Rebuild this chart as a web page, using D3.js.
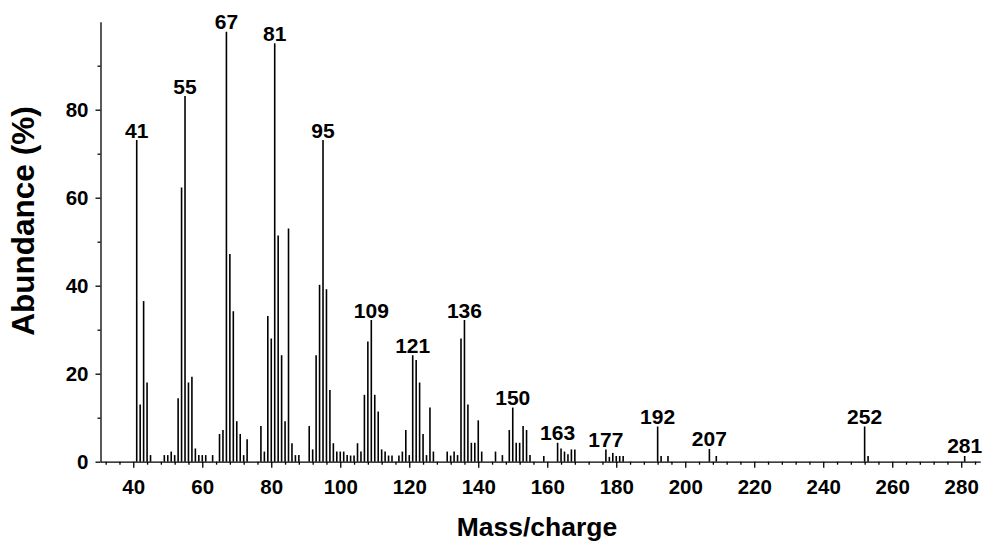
<!DOCTYPE html>
<html><head><meta charset="utf-8">
<script src="https://cdn.jsdelivr.net/npm/d3@7"></script>
<style>
html,body{margin:0;padding:0;background:#fff;}
svg text{font-family:"Liberation Sans",Arial,Helvetica,sans-serif;font-weight:bold;fill:#000;}
</style></head>
<body>
<svg id="c" width="983" height="541"></svg>
<script>
// m/z values and relative abundance (%)
const masses = [41,42,43,44,45,49,50,51,52,53,54,55,56,57,58,59,60,61,63,65,66,67,68,69,70,71,72,73,
  77,78,79,80,81,82,83,84,85,86,87,88,91,92,93,94,95,96,97,98,99,100,101,102,
  103,104,105,106,107,108,109,110,111,112,113,114,115,117,118,119,120,121,122,123,124,125,126,127,
  131,132,133,134,135,136,137,138,139,140,141,145,147,149,150,151,152,153,154,155,159,
  163,164,165,166,167,168,177,178,179,180,181,182,192,193,195,207,209,252,253,281];
const abundance = [73.1,13.0,36.5,18.0,1.5,1.5,1.5,2.3,1.5,14.4,62.3,83.1,18.0,19.3,3.0,1.5,1.5,1.5,1.5,6.3,7.2,97.7,47.2,34.2,9.2,6.3,1.5,5.1,
  8.1,2.3,33.1,28.0,95.1,51.4,24.2,9.2,53.0,4.2,1.5,1.5,8.1,2.8,24.2,40.2,73.1,39.2,16.3,4.2,2.3,2.3,2.3,1.5,
  1.4,1.4,4.2,2.3,15.2,27.3,32.2,15.2,11.4,2.8,2.3,1.4,1.4,1.4,2.3,7.2,1.5,24.2,23.1,18.0,6.3,1.5,12.3,2.3,
  2.3,1.4,2.3,1.5,28.0,32.2,13.0,4.3,4.3,9.4,2.3,2.3,1.5,7.2,12.3,4.3,4.3,8.1,7.2,1.5,1.3,
  4.3,3.0,2.3,1.7,2.8,2.8,2.8,1.1,2.0,1.3,1.3,1.3,8.0,1.3,1.3,2.9,1.3,8.0,1.3,1.3];
const labelledPeaks = [41,55,67,81,95,109,121,136,150,163,177,192,207,252,281];
const xMajorTicks = [40,60,80,100,120,140,160,180,200,220,240,260,280];
const yMajorTicks = [0,20,40,60,80];
const yMinorTicks = [10,30,50,70,90];
const xLabel = "Mass/charge";
const yLabel = "Abundance (%)";

const data = masses.map((m,i)=>({m, v: abundance[i]}));
const svg = d3.select("#c");
const x = d3.scaleLinear().domain([30.5, 285.5]).range([100.5, 980.2]);
const y = d3.scaleLinear().domain([0, 100]).range([461.7, 21.7]);

// bars
svg.append("g").selectAll("line").data(data).join("line")
  .attr("x1", d=>x(d.m)).attr("x2", d=>x(d.m))
  .attr("y1", y(0)).attr("y2", d=>y(d.v))
  .attr("stroke", "#000").attr("stroke-width", 1.6);

// peak labels
const byMass = new Map(data.map(d=>[d.m,d.v]));
svg.append("g").selectAll("text").data(labelledPeaks).join("text")
  .attr("x", d=>x(d)).attr("y", d=>y(byMass.get(d)) - 2.5)
  .attr("text-anchor","middle").attr("font-size", 21).text(d=>d);

// x axis
const xMinor = d3.range(32, 286, 4).filter(v=>!xMajorTicks.includes(v));
const gx = svg.append("g").attr("transform", `translate(0,${y(0)})`);
gx.call(d3.axisBottom(x).tickValues(xMajorTicks).tickSize(6).tickSizeOuter(0).tickPadding(12));
gx.append("g").call(d3.axisBottom(x).tickValues(xMinor).tickSize(3).tickSizeOuter(0).tickFormat(""))
  .select(".domain").remove();
gx.selectAll("text").attr("font-size", 20.5).attr("font-family", null).attr("fill","#000");
gx.selectAll("line, path").attr("stroke", "#000").attr("stroke-width", 1.3);

// y axis
const gy = svg.append("g").attr("transform", `translate(${x(30.5)},0)`);
gy.call(d3.axisLeft(y).tickValues(yMajorTicks).tickSize(5).tickSizeOuter(0).tickPadding(7));
gy.append("g").call(d3.axisLeft(y).tickValues(yMinorTicks).tickSize(3).tickSizeOuter(0).tickFormat(""))
  .select(".domain").remove();
gy.selectAll("text").attr("font-size", 20.5).attr("font-family", null).attr("fill","#000");
gy.selectAll("line, path").attr("stroke", "#000").attr("stroke-width", 1.3);

// axis titles
svg.append("text").attr("x", 537).attr("y", 536).attr("text-anchor","middle")
  .attr("font-size", 26.5).text(xLabel);
svg.append("text").attr("transform", "translate(34,221) rotate(-90)").attr("text-anchor","middle")
  .attr("font-size", 31.5).text(yLabel);
</script>
</body></html>
